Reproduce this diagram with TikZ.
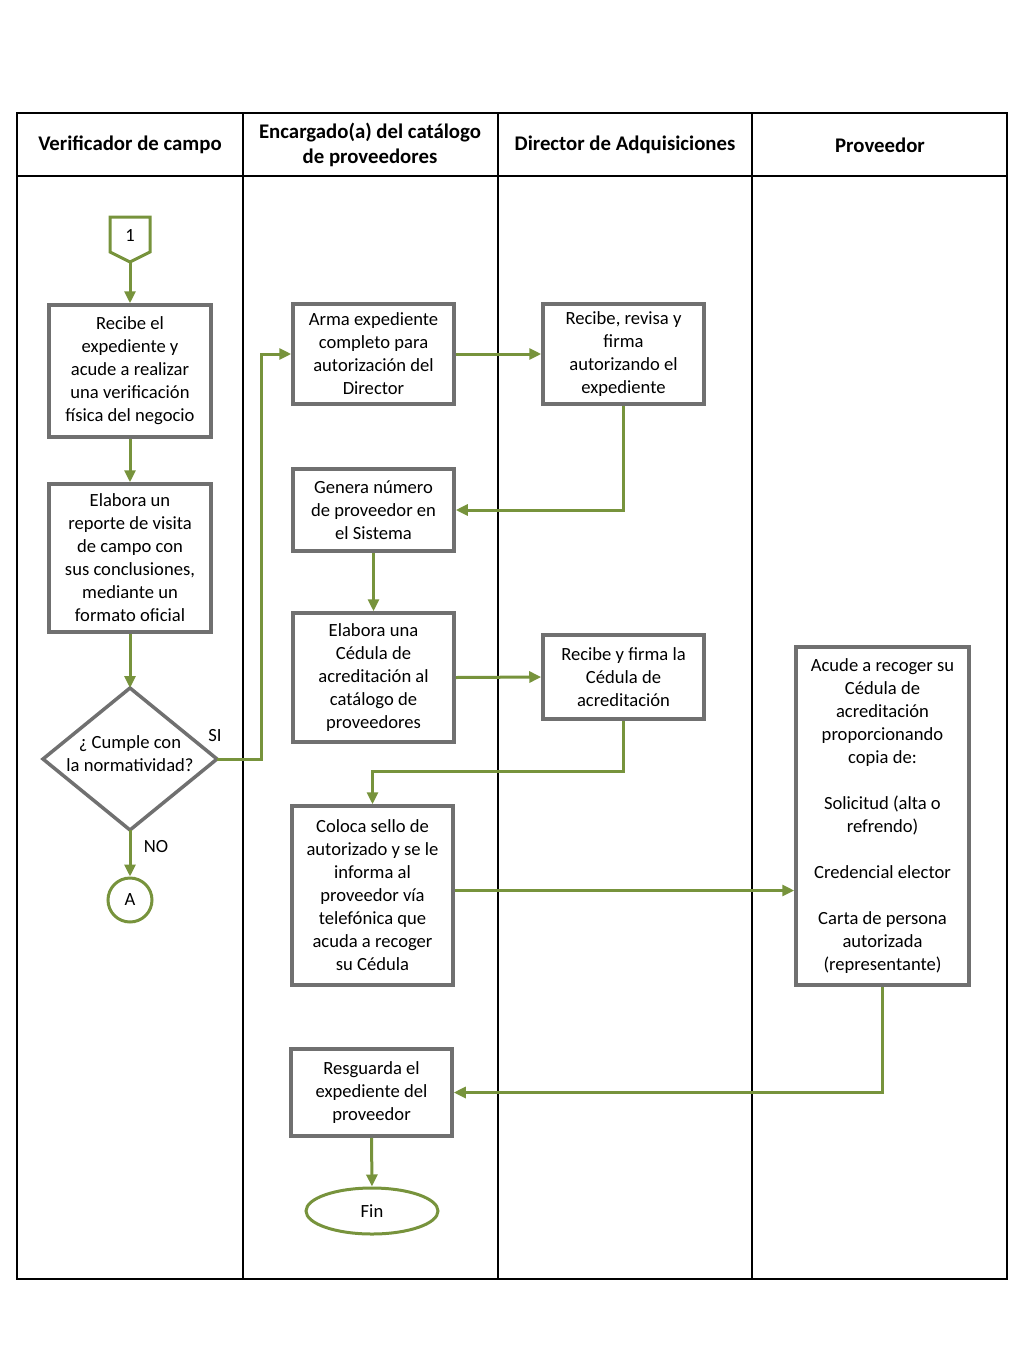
\documentclass[tikz,border=0pt]{standalone}
\usepackage{fontspec}
\setmainfont{Carlito}
\usetikzlibrary{arrows.meta,shapes.geometric}
\definecolor{grn}{HTML}{77933C}
\definecolor{bxg}{HTML}{707070}
\begin{document}
\begin{tikzpicture}[x=1pt,y=-1pt,
 box/.style={draw=bxg, line width=3.5pt, fill=white, align=center, inner sep=1pt, font=\fontsize{18.6}{23}\selectfont},
 flow/.style={draw=grn, line width=3pt, -{Triangle[length=12pt,width=11pt]}},
 hdr/.style={font=\bfseries\fontsize{20.8}{24.5}\selectfont, align=center},
 lbl/.style={font=\fontsize{18.6}{22}\selectfont},
 tbl/.style={line width=1.3pt, draw=black}]
\useasboundingbox (0,0) rectangle (1024,1365);
% table
\draw[tbl] (17,113) rectangle (1007,1279);
\draw[tbl] (17,176) -- (1007,176);
\foreach \x in {243,498,752} \draw[tbl] (\x,113) -- (\x,1279);
% headers
\node[hdr] (h1) at (130,145) {Verificador de campo};
\node[hdr] (h2) at (370,145) {Encargado(a) del catálogo\\de proveedores};
\node[hdr] (h3) at (625,145) {Director de Adquisiciones};
\node[hdr] (h4) at (880,145) {Proveedor};
% off-page connector 1
\draw[draw=grn, line width=3pt, fill=white] (110,217) -- (150,217) -- (150,252) -- (130,262) -- (110,252) -- cycle;
\node[lbl] (one) at (130,236) {1};
\coordinate (onebot) at (130,262);
% column 1
\node[box, minimum width=162pt, minimum height=132pt] (b1) at (130,371) {Recibe el\\expediente y\\acude a realizar\\una verificación\\física del negocio};
\node[box, minimum width=162pt, minimum height=148pt] (b2) at (130,558) {Elabora un\\reporte de visita\\de campo con\\sus conclusiones,\\mediante un\\formato oficial};
\coordinate (dc) at (130,759);
\coordinate (decN) at (130,688);
\coordinate (decS) at (130,830);
\coordinate (decE) at (217,759);
\coordinate (decW) at (43,759);
\draw[draw=bxg, line width=3.5pt, line join=miter] (decN) -- (decE) -- (decS) -- (decW) -- cycle;
\node[align=center, font=\fontsize{18.6}{23}\selectfont, inner sep=0pt] (dec) at (130,754) {¿ Cumple con\\la normatividad?};
\node[circle, draw=grn, line width=3pt, minimum size=44pt, inner sep=0pt, font=\fontsize{18.6}{22}\selectfont] (A) at (130,900) {A};
\node[lbl] (si) at (215,736) {SI};
\node[lbl] (no) at (156,847) {NO};
% column 2
\node[box, minimum width=161pt, minimum height=100pt] (arma) at (373.5,354) {Arma expediente\\completo para\\autorización del\\Director};
\node[box, minimum width=161pt, minimum height=82pt] (gen) at (373.5,510) {Genera número\\de proveedor en\\el Sistema};
\node[box, minimum width=161pt, minimum height=129pt] (elab) at (373.5,677.5) {Elabora una\\Cédula de\\acreditación al\\catálogo de\\proveedores};
\node[box, minimum width=161pt, minimum height=179pt] (col) at (372.5,895.5) {Coloca sello de\\autorizado y se le\\informa al\\proveedor vía\\telefónica que\\acuda a recoger\\su Cédula};
\node[box, minimum width=161pt, minimum height=87pt] (res) at (371.5,1092.5) {Resguarda el\\expediente del\\proveedor};
\node[ellipse, draw=grn, line width=3pt, fill=white, minimum width=132pt, minimum height=46pt, inner sep=0pt, font=\fontsize{18.6}{22}\selectfont] (fin) at (372,1211) {Fin};
% column 3
\node[box, minimum width=161pt, minimum height=100pt] (rev) at (623.5,354) {Recibe, revisa y\\firma\\autorizando el\\expediente};
\node[box, minimum width=161pt, minimum height=84pt] (firma) at (623.5,677) {Recibe y firma la\\Cédula de\\acreditación};
% column 4
\node[box, minimum width=173pt, minimum height=338pt] (acude) at (882.5,816) {Acude a recoger su\\Cédula de\\acreditación\\proporcionando\\copia de:\\[23pt]Solicitud (alta o\\refrendo)\\[23pt]Credencial elector\\[23pt]Carta de persona\\autorizada\\(representante)};
% connectors
\draw[flow] (onebot) -- (b1.north);
\draw[flow] (b1.south) -- (b2.north);
\draw[flow] (b2.south) -- (decN);
\draw[flow] (decS) -- (A.north);
\draw[flow] (decE) -- ++(44,0) |- (arma.west);
\draw[flow] (arma.east) -- (rev.west);
\draw[flow] (rev.south) |- (gen.east);
\draw[flow] (gen.south) -- (elab.north);
\draw[flow] (elab.east) -- (firma.west);
\draw[flow] (firma.south) -- ++(0,51) -| (col.north);
\draw[flow] ([yshift=5pt]col.east) -- ([yshift=5pt]col.east -| acude.west);
\draw[flow] (acude.south) |- (res.east);
\draw[flow] (res.south) -- (fin.north);
\end{tikzpicture}
\end{document}
